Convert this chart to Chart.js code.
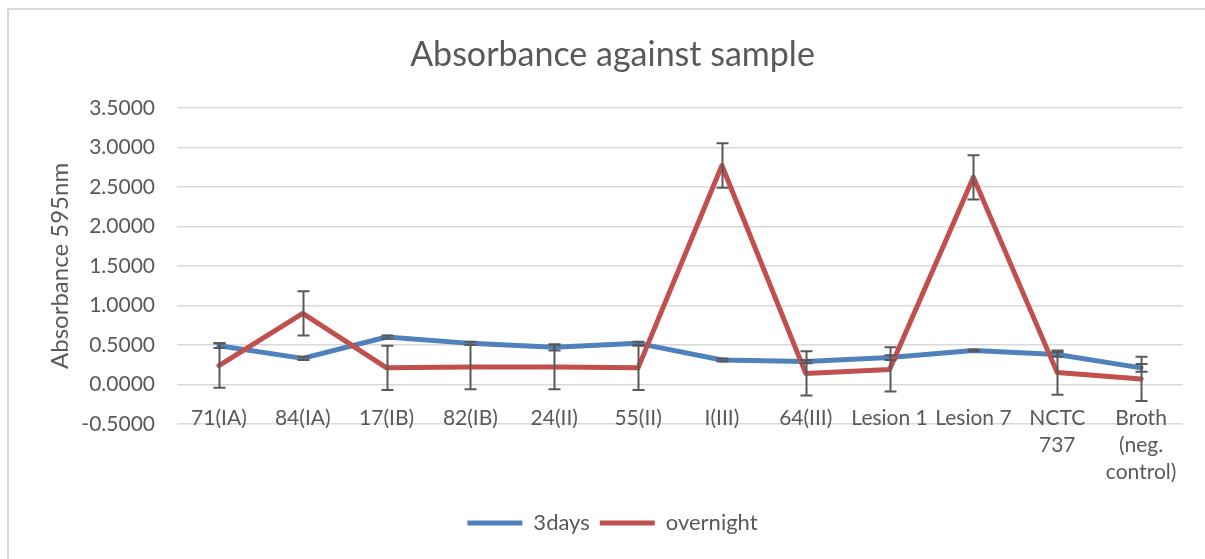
<!DOCTYPE html>
<html>
<head>
<meta charset="utf-8">
<script src="https://cdn.jsdelivr.net/npm/chart.js@4/dist/chart.umd.min.js"></script>
<style>
  html, body { margin: 0; padding: 0; background: #fff; }
  #wrap { position: relative; width: 1205px; height: 559px; }
</style>
</head>
<body>
<div id="wrap"><canvas id="absChart"></canvas></div>
<script>
// sample names (multi-line ones as arrays)
const samples = ['71(IA)', '84(IA)', '17(IB)', '82(IB)', '24(II)', '55(II)', 'I(III)', '64(III)',
  'Lesion 1', 'Lesion 7', ['NCTC', '737'], ['Broth', '(neg.', 'control)']];

// absorbance at 595nm
const threeDays = [0.49, 0.33, 0.60, 0.52, 0.47, 0.52, 0.31, 0.29, 0.34, 0.43, 0.38, 0.21];
const threeDaysErr = [0.03, 0.02, 0.02, 0.02, 0.04, 0.02, 0.02, 0.02, 0.03, 0.01, 0.03, 0.05];
const overnight = [0.24, 0.90, 0.21, 0.22, 0.22, 0.21, 2.77, 0.14, 0.19, 2.62, 0.15, 0.07];
const overnightErr = [0.28, 0.28, 0.28, 0.28, 0.28, 0.28, 0.28, 0.28, 0.28, 0.28, 0.28, 0.28];

const yTicks = [-0.5, 0, 0.5, 1, 1.5, 2, 2.5, 3, 3.5];

const textColor = '#595959';
const blue = '#4F81BD';
const red = '#C0504D';

// light grey frame round the chart
const frame = {
  id: 'frame',
  beforeDraw(chart) {
    const ctx = chart.ctx;
    ctx.save();
    ctx.strokeStyle = '#D9D9D9';
    ctx.lineWidth = 2;
    ctx.strokeRect(8, 9, 1400, 800);
    ctx.restore();
  }
};

// simple +/- error bars
const errorBars = {
  id: 'errorBars',
  afterDatasetsDraw(chart) {
    const ctx = chart.ctx;
    const x = chart.scales.x;
    const y = chart.scales.y;
    ctx.save();
    ctx.strokeStyle = textColor;
    ctx.lineWidth = 2;
    [[threeDays, threeDaysErr], [overnight, overnightErr]].forEach(([vals, errs]) => {
      vals.forEach((v, i) => {
        const px = Math.round(x.getPixelForValue(i)) + 0.5;
        const top = y.getPixelForValue(v + errs[i]);
        const bot = y.getPixelForValue(v - errs[i]);
        ctx.beginPath();
        ctx.moveTo(px, top);
        ctx.lineTo(px, bot);
        ctx.moveTo(px - 6, top);
        ctx.lineTo(px + 6, top);
        ctx.moveTo(px - 6, bot);
        ctx.lineTo(px + 6, bot);
        ctx.stroke();
      });
    });
    ctx.restore();
  }
};

const ctx = document.getElementById('absChart').getContext('2d');
const absChart = new Chart(ctx, {
  type: 'line',
  data: {
    labels: samples,
    datasets: [{
      label: '3days',
      data: threeDays,
      borderColor: blue,
      backgroundColor: blue,
      borderWidth: 5,
      pointRadius: 0,
      borderCapStyle: 'round',
      borderJoinStyle: 'round',
      order: 1
    }, {
      label: 'overnight',
      data: overnight,
      borderColor: red,
      backgroundColor: red,
      borderWidth: 5,
      pointRadius: 0,
      borderCapStyle: 'round',
      borderJoinStyle: 'round',
      order: 0
    }]
  },
  options: {
    responsive: true,
    maintainAspectRatio: false,
    animation: false,
    layout: { padding: { left: 42, top: 10, right: 22, bottom: 15 } },
    scales: {
      // category axis sits on the zero line, labels hang below it
      x: {
        position: { y: 0 },
        offset: true,
        grid: { display: false, drawTicks: false },
        border: { display: false },
        ticks: {
          color: textColor,
          font: { family: 'Lato', size: 21, lineHeight: 1.3 },
          padding: 20,
          autoSkip: false,
          maxRotation: 0,
          minRotation: 0
        }
      },
      // empty axis only to keep room between plot and legend
      x2: {
        axis: 'x',
        position: 'bottom',
        offset: true,
        grid: { display: false, drawTicks: false },
        border: { display: false },
        ticks: { display: false },
        afterFit(scale) { scale.height = 78; }
      },
      y: {
        min: -0.5,
        max: 3.5,
        afterBuildTicks(scale) { scale.ticks = yTicks.map(v => ({ value: v })); },
        grid: { color: '#D9D9D9', lineWidth: 1.5, drawTicks: false },
        border: { display: false },
        ticks: {
          color: textColor,
          font: { family: 'Lato', size: 21 },
          padding: 22,
          callback: v => v.toFixed(4)
        },
        title: {
          display: true,
          text: 'Absorbance 595nm',
          color: textColor,
          font: { family: 'Lato', size: 24 }
        },
        afterFit(scale) { scale.width = 135; }
      }
    },
    plugins: {
      title: {
        display: true,
        text: 'Absorbance against sample',
        color: textColor,
        font: { family: 'Lato', size: 34, weight: 'normal' },
        padding: { top: 25, bottom: 32 }
      },
      legend: {
        position: 'bottom',
        labels: {
          color: textColor,
          font: { family: 'Lato', size: 22 },
          boxWidth: 55,
          boxHeight: 5,
          useBorderRadius: true,
          borderRadius: 2.5,
          generateLabels: chart => chart.data.datasets.map((ds, i) => ({
            text: ds.label,
            fillStyle: ds.borderColor,
            strokeStyle: ds.borderColor,
            lineWidth: 0,
            fontColor: textColor,
            hidden: false,
            datasetIndex: i
          }))
        }
      },
      tooltip: { enabled: false }
    }
  },
  plugins: [frame, errorBars]
});
</script>
</body>
</html>
